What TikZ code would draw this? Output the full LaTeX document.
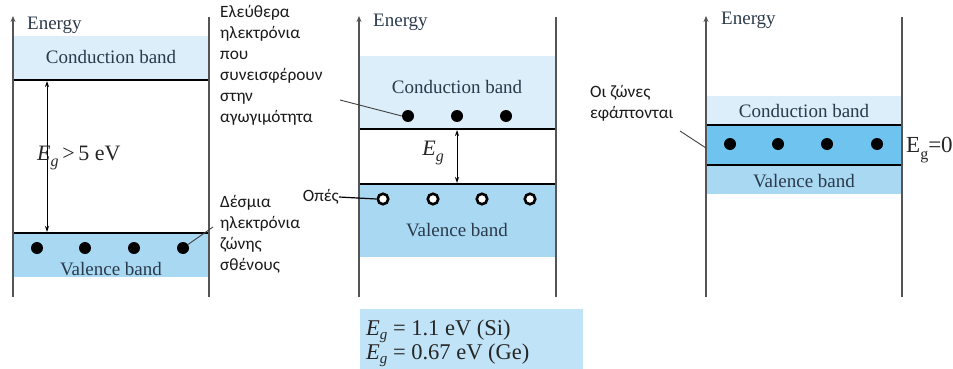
\documentclass[tikz,border=0pt]{standalone}
\usepackage{fontspec}
\setmainfont{Liberation Serif}
\newfontfamily\grfont{Carlito}
\usetikzlibrary{arrows.meta}
\definecolor{cbcol}{HTML}{DCEEFA}
\definecolor{vbcol}{HTML}{A9D8F3}
\definecolor{midcol}{HTML}{6FC3EF}
\definecolor{boxcol}{HTML}{C0E3F7}
\definecolor{lblcol}{HTML}{2B3A4B}
\definecolor{axcol}{HTML}{555555}
\newcommand{\Eg}{\textit{E}\raisebox{-0.28em}{\fontsize{16}{16}\selectfont\textit{g}}}
\newcommand{\Egb}{\textit{E}\raisebox{-0.2em}{\fontsize{15}{15}\selectfont\textit{g}}}
\tikzset{
  axisline/.style={draw=axcol, line width=1.3pt},
  energyaxis/.style={axisline, -{Stealth[length=6pt,width=5pt]}},
  bandline/.style={draw=black, line width=2pt},
  lbl/.style={text=lblcol, font=\fontsize{19}{22}\selectfont, inner sep=0pt},
  enlbl/.style={text=lblcol, font=\fontsize{19}{22}\selectfont, inner sep=0pt, anchor=west},
  grtxt/.style={font=\grfont\fontsize{17.3}{21}\selectfont, align=left, inner sep=0pt, text=black!90},
  edot/.style={circle, fill=black, minimum size=12pt, inner sep=0pt},
  hdot/.style={circle, fill=white, draw=black, line width=2.6pt, minimum size=10.5pt, inner sep=0pt},
  leader/.style={draw=black!75, line width=0.9pt},
  dimarrow/.style={draw=black, line width=1pt, {Stealth[length=6pt,width=4pt]}-{Stealth[length=6pt,width=4pt]}},
  eglbl/.style={text=black!85, font=\fontsize{22}{23}\selectfont, inner sep=0pt},
  eqlbl/.style={eglbl, anchor=base west, font=\fontsize{22.5}{23}\selectfont},
}
\begin{document}
\begin{tikzpicture}[x=1pt,y=-1pt]
\useasboundingbox (0,0) rectangle (953,369);
% ---------------- Panel 1
\fill[cbcol] (13,36) rectangle (209,80);
\fill[vbcol] (13,233) rectangle (209,277);
\draw[bandline] (13,80) -- (209,80);
\draw[bandline] (13,233) -- (209,233);
\coordinate (a1b) at (13,297); \coordinate (a1t) at (13,16);
\coordinate (r1t) at (209,17); \coordinate (r1b) at (209,297);
\draw[energyaxis] (a1b) -- (a1t);
\draw[axisline] (r1t) -- (r1b);
\node[enlbl] (en1) at (27,25) {Energy};
\node[lbl] (cb1) at (111,57) {Conduction band};
\node[lbl] (vb1) at (111,269) {Valence band};
\coordinate (g1t) at (47,81); \coordinate (g1b) at (47,232);
\draw[dimarrow] (g1t) -- (g1b);
\node[eglbl, anchor=west] (eg1) at (37,158) {\Eg\,>\,5 eV};
\node[edot] (d11) at (37,248) {};
\node[edot] (d12) at (85,248) {};
\node[edot] (d13) at (134,248) {};
\node[edot] (d14) at (183,248) {};
\node[grtxt, anchor=north west] (t1) at (220,195) {Δέσμια\\ηλεκτρόνια\\ζώνης\\σθένους};
\coordinate (l1) at (213,227);
\draw[leader] (d14) -- (l1);
% ---------------- Panel 2
\fill[cbcol] (359,56) rectangle (556,129);
\fill[vbcol] (359,184) rectangle (556,257);
\draw[bandline] (359,129) -- (556,129);
\draw[bandline] (359,184) -- (556,184);
\coordinate (a2b) at (359,297); \coordinate (a2t) at (359,16);
\coordinate (r2t) at (556,17); \coordinate (r2b) at (556,297);
\draw[energyaxis] (a2b) -- (a2t);
\draw[axisline] (r2t) -- (r2b);
\node[enlbl] (en2) at (373,22) {Energy};
\node[lbl] (cb2) at (457,87) {Conduction band};
\node[lbl] (vb2) at (457,230) {Valence band};
\coordinate (g2t) at (457,130); \coordinate (g2b) at (457,183);
\draw[dimarrow] (g2t) -- (g2b);
\node[eglbl, anchor=east] (eg2) at (444,153) {\Eg};
\node[edot] (d21) at (408,116) {};
\node[edot] (d22) at (457,116) {};
\node[edot] (d23) at (506,116) {};
\node[hdot] (h21) at (383,199) {};
\node[hdot] (h22) at (433,199) {};
\node[hdot] (h23) at (482,199) {};
\node[hdot] (h24) at (530,199) {};
\node[grtxt, anchor=north west] (t2) at (220,5) {Ελεύθερα\\ηλεκτρόνια\\που\\συνεισφέρουν\\στην\\αγωγιμότητα};
\coordinate (l2) at (340,100);
\draw[leader] (l2) -- (d21.west);
\node[grtxt, anchor=east] (t3) at (339,197) {Οπές};
\draw[draw=black, line width=1.2pt] (t3.east) -- (h21.west);
% ---------------- Panel 3
\fill[cbcol] (706,96) rectangle (902,125);
\fill[midcol] (706,125) rectangle (902,165);
\fill[vbcol] (706,165) rectangle (902,194);
\draw[bandline] (706,125) -- (902,125);
\draw[bandline] (706,165) -- (902,165);
\coordinate (a3b) at (706,297); \coordinate (a3t) at (706,16);
\coordinate (r3t) at (902,17); \coordinate (r3b) at (902,297);
\draw[energyaxis] (a3b) -- (a3t);
\draw[axisline] (r3t) -- (r3b);
\node[enlbl] (en3) at (721,20) {Energy};
\node[lbl] (cb3) at (804,111) {Conduction band};
\node[lbl] (vb3) at (804,181) {Valence band};
\node[edot] (d31) at (730,144) {};
\node[edot] (d32) at (778,144) {};
\node[edot] (d33) at (827,144) {};
\node[edot] (d34) at (877,144) {};
\node[eglbl, anchor=west, font=\fontsize{23}{23}\selectfont] (eg3) at (906,150) {E\raisebox{-0.28em}{\fontsize{16}{16}\selectfont g}=0};
\node[grtxt, anchor=north west] (t4) at (590,85) {Οι ζώνες\\εφάπτονται};
\coordinate (l3a) at (680,131); \coordinate (l3b) at (706,148);
\draw[leader] (l3a) -- (l3b);
% ---------------- Bottom box
\fill[boxcol] (360,309) rectangle (583,369);
\node[eqlbl] (eq1) at (366,335) {\Egb\ = 1.1 eV (Si)};
\node[eqlbl] (eq2) at (366,359) {\Egb\ = 0.67 eV (Ge)};
\end{tikzpicture}
\end{document}
